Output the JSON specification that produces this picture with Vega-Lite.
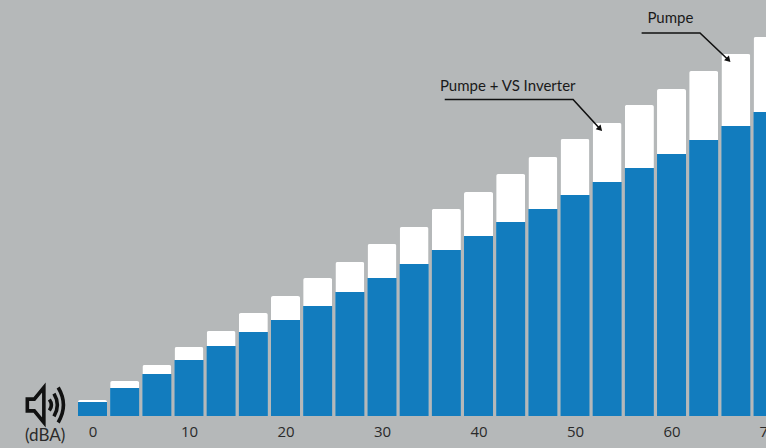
{"$schema":"https://vega.github.io/schema/vega-lite/v6.json","width":766,"height":448,"padding":0,"autosize":{"type":"none"},"background":"#b5b8b9","view":{"stroke":null},"config":{"font":"Lato"},
"datasets":{"bars":[
{"x":0,"pumpe":16,"inverter":14},{"x":3.33,"pumpe":35,"inverter":28},{"x":6.67,"pumpe":51,"inverter":42},{"x":10,"pumpe":69,"inverter":56},{"x":13.33,"pumpe":85,"inverter":70},{"x":16.67,"pumpe":103,"inverter":84},{"x":20,"pumpe":120,"inverter":96},{"x":23.33,"pumpe":138,"inverter":110},{"x":26.67,"pumpe":154,"inverter":124},{"x":30,"pumpe":172,"inverter":138},{"x":33.33,"pumpe":189,"inverter":152},{"x":36.67,"pumpe":207,"inverter":166},{"x":40,"pumpe":224,"inverter":180},{"x":43.33,"pumpe":242,"inverter":194},{"x":46.67,"pumpe":259,"inverter":207},{"x":50,"pumpe":277,"inverter":221},{"x":53.33,"pumpe":293,"inverter":234},{"x":56.67,"pumpe":311,"inverter":248},{"x":60,"pumpe":327,"inverter":262},{"x":63.33,"pumpe":345,"inverter":276},{"x":66.67,"pumpe":362,"inverter":290},{"x":70,"pumpe":379,"inverter":304}],
"leaders":[{"g":"a","o":1,"x":36.5,"y":316.5},{"g":"a","o":2,"x":49.8,"y":316.5},{"g":"a","o":3,"x":52.6,"y":287},{"g":"b","o":1,"x":56.9,"y":383},{"g":"b","o":2,"x":62.95,"y":383},{"g":"b","o":3,"x":65.9,"y":356}],
"heads":[{"x":52.6,"y":287},{"x":65.9,"y":356}],
"labels":[{"x":36.0,"y":330,"t":"Pumpe + VS Inverter"},{"x":57.5,"y":398,"t":"Pumpe"}]},
"encoding":{"x":{"field":"x","type":"quantitative","scale":{"domain":[-9.585,69.79],"padding":0,"nice":false,"zero":false},"axis":{"values":[0,10,20,30,40,50,60],"title":null,"grid":false,"domain":false,"ticks":false,"labelFontSize":15,"labelColor":"#2a2a2a","labelPadding":8,"offset":-32,"labelFont":"Open Sans","labelFlush":false,"labelOverlap":false,"labelBound":false}}},
"layer":[
{"data":{"name":"bars"},"mark":{"type":"bar","size":29,"color":"#ffffff","cornerRadiusTopLeft":2,"cornerRadiusTopRight":2},"encoding":{"y":{"field":"pumpe","type":"quantitative","scale":{"domain":[-32,416],"nice":false,"zero":false},"axis":null}}},
{"data":{"name":"bars"},"mark":{"type":"bar","size":29,"color":"#127cbe"},"encoding":{"y":{"field":"inverter","type":"quantitative","axis":null}}},
{"data":{"name":"leaders"},"mark":{"type":"line","color":"#111111","strokeWidth":1.6},"encoding":{"detail":{"field":"g"},"order":{"field":"o","type":"quantitative"},"y":{"field":"y","type":"quantitative","axis":null}}},
{"data":{"name":"heads"},"mark":{"type":"point","shape":"triangle-up","angle":137,"filled":true,"color":"#111111","size":45,"opacity":1},"encoding":{"y":{"field":"y","type":"quantitative","axis":null}}},
{"data":{"name":"labels"},"mark":{"type":"text","align":"left","baseline":"middle","fontSize":15,"font":"Lato","color":"#1a1a1a"},"encoding":{"y":{"field":"y","type":"quantitative","axis":null},"text":{"field":"t"}}},
{"data":{"values":[{"x":70,"y":-15.5,"t":"70"}]},"mark":{"type":"text","align":"center","baseline":"middle","fontSize":15,"font":"Open Sans","color":"#2a2a2a"},"encoding":{"y":{"field":"y","type":"quantitative","axis":null},"text":{"field":"t"}}},
{"data":{"values":[{"x":-4.9,"y":-20,"t":"(dBA)"}]},"mark":{"type":"text","align":"center","baseline":"middle","fontSize":17,"font":"Lato","color":"#2a2a2a"},"encoding":{"y":{"field":"y","type":"quantitative","axis":null},"text":{"field":"t"}}},
{"data":{"values":[{"x":-4.85,"y":11}]},"mark":{"type":"point","filled":false,"color":"#111111","strokeWidth":3.6,"opacity":1,"size":1350,"shape":"M-1 -0.32 L-0.62 -0.32 L-0.1 -0.95 L-0.1 0.95 L-0.62 0.32 L-1 0.32 Z M0.2 -0.3 Q0.42 0 0.2 0.3 M0.45 -0.62 Q0.82 0 0.45 0.62 M0.68 -0.95 Q1.25 0 0.68 0.95"},"encoding":{"y":{"field":"y","type":"quantitative","axis":null}}}
]}
